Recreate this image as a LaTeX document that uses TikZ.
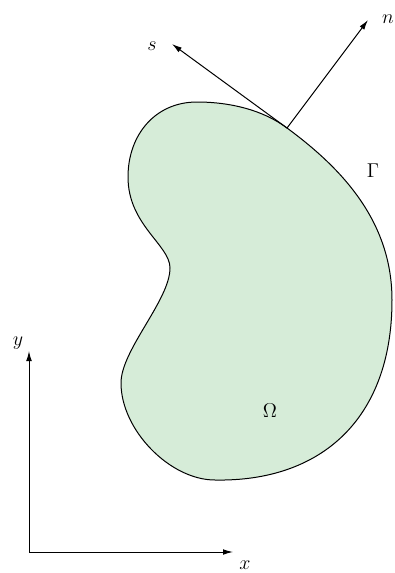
\documentclass[tikz,border=0pt]{standalone}
\usetikzlibrary{arrows.meta}
\definecolor{regionfill}{RGB}{214,236,216}
\begin{document}
\begin{tikzpicture}[x=0.6pt,y=-0.6pt,
  vec/.style={line width=0.6pt,-{Latex[length=6pt,width=3.4pt]}},
  lbl/.style={inner sep=0pt,font=\fontsize{12}{14}\selectfont}]
\useasboundingbox (0,0) rectangle (394,573);
\coordinate (T) at (287,128);
\draw[fill=regionfill,line width=0.6pt]
  (T) .. controls (340,167) and (392,220) .. (392,300)
      .. controls (392,420) and (320,482) .. (215,480)
      .. controls (170,480) and (121,430) .. (121,383)
      .. controls (121,350) and (170,300) .. (170,268)
      .. controls (170,245) and (128,225) .. (128,177)
      .. controls (128,135) and (155,102) .. (197,102)
      .. controls (230,102) and (263,110) .. (T) -- cycle;
\coordinate (S) at (172,44);
\coordinate (N) at (368,20);
\draw[vec] (T) -- (S);
\draw[vec] (T) -- (N);
\node[lbl] (s) at (152,46) {$s$};
\node[lbl] (n) at (388,19) {$n$};
\node[lbl] (G) at (373,171) {$\Gamma$};
\node[lbl] (O) at (270,411) {$\Omega$};
\coordinate (O0) at (29,552);
\coordinate (Y) at (29,351);
\coordinate (X) at (233,552);
\draw[vec] (O0) -- (Y);
\draw[vec] (O0) -- (X);
\node[lbl] (y) at (18,343) {$y$};
\node[lbl] (x) at (245,565) {$x$};
\end{tikzpicture}
\end{document}
